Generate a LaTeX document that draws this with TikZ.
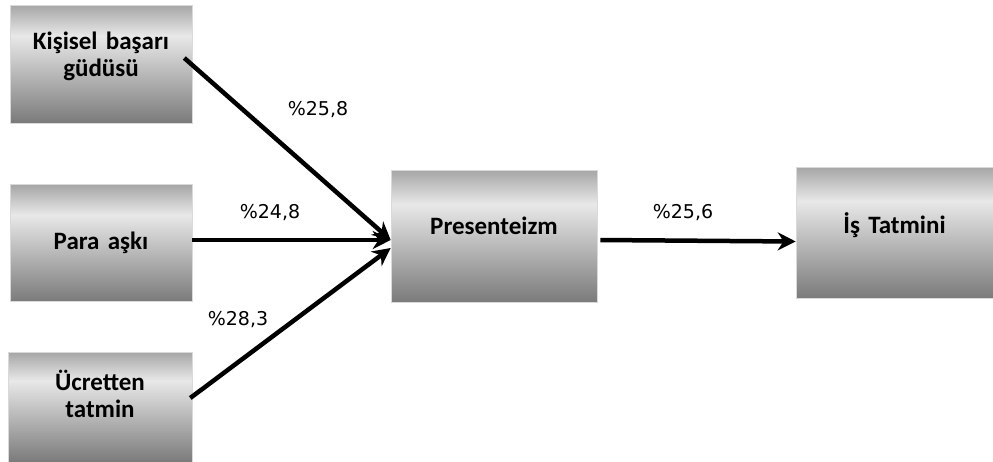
\documentclass[tikz,border=0pt]{standalone}
\usepackage{fontspec}
\setmainfont{Carlito}
\newfontfamily\pctfont{DejaVu Sans}
\usepackage{tikz}
\usetikzlibrary{arrows.meta}

\pgfdeclareverticalshading{boxshade}{100bp}{%
  color(0bp)=(black!52); color(25bp)=(black!52);
  color(62bp)=(black!9); color(75bp)=(black!35); color(100bp)=(black!35)}

\newcommand{\lift}[1]{\rule[-#1]{0pt}{1pt}}

\begin{document}
\begin{tikzpicture}[x=1pt, y=-1pt]
    % Define the style for the nodes
    \tikzstyle{block} = [rectangle, shading=boxshade, draw=black!15, line width=0.6pt, text width=175pt, align=center, font=\fontsize{25}{27}\selectfont\bfseries, inner sep=0pt]
    \tikzstyle{line} = [draw, -{Stealth[length=18pt, width=18pt]}, line width=4.5pt]
    \tikzstyle{pct} = [font=\fontsize{19}{22}\selectfont\pctfont]

    \useasboundingbox (0,0) rectangle (993,461);

    % Place the nodes
    \node [block, minimum width=182pt, minimum height=118pt] (kisisel) at (101,64) {Kişisel başarı\\güdüsü\lift{20pt}};
    \node [block, minimum width=182pt, minimum height=117pt] (para) at (101,243) {Para aşkı};
    \node [block, minimum width=184pt, minimum height=110pt] (ucret) at (100,407) {Ücretten\\tatmin\lift{26pt}};
    \node [block, minimum width=206pt, minimum height=132pt] (pres) at (494,236) {Presenteizm\lift{20pt}};
    \node [block, minimum width=197pt, minimum height=131pt] (is) at (894.5,232.5) {İş Tatmini\lift{18pt}};

    % Connect the nodes with paths
    \path [line] ([xshift=-8pt, yshift=6pt]kisisel.east) -- ([yshift=-4pt]pres.west);
    \path [line] ([yshift=3pt]para.east) -- ([yshift=-4pt]pres.west);
    \path [line] ([xshift=-2pt, yshift=9pt]ucret.east) -- ([yshift=-12pt]pres.west);
    \path [line] ([xshift=3pt, yshift=-4pt]pres.east) -- ([yshift=-9pt]is.west);

    % Labels
    \node [pct] (l1) at (318,110) {\%25,8};
    \node [pct] (l2) at (270,213) {\%24,8};
    \node [pct] (l3) at (238,320) {\%28,3};
    \node [pct] (l4) at (683,213) {\%25,6};
\end{tikzpicture}
\end{document}
